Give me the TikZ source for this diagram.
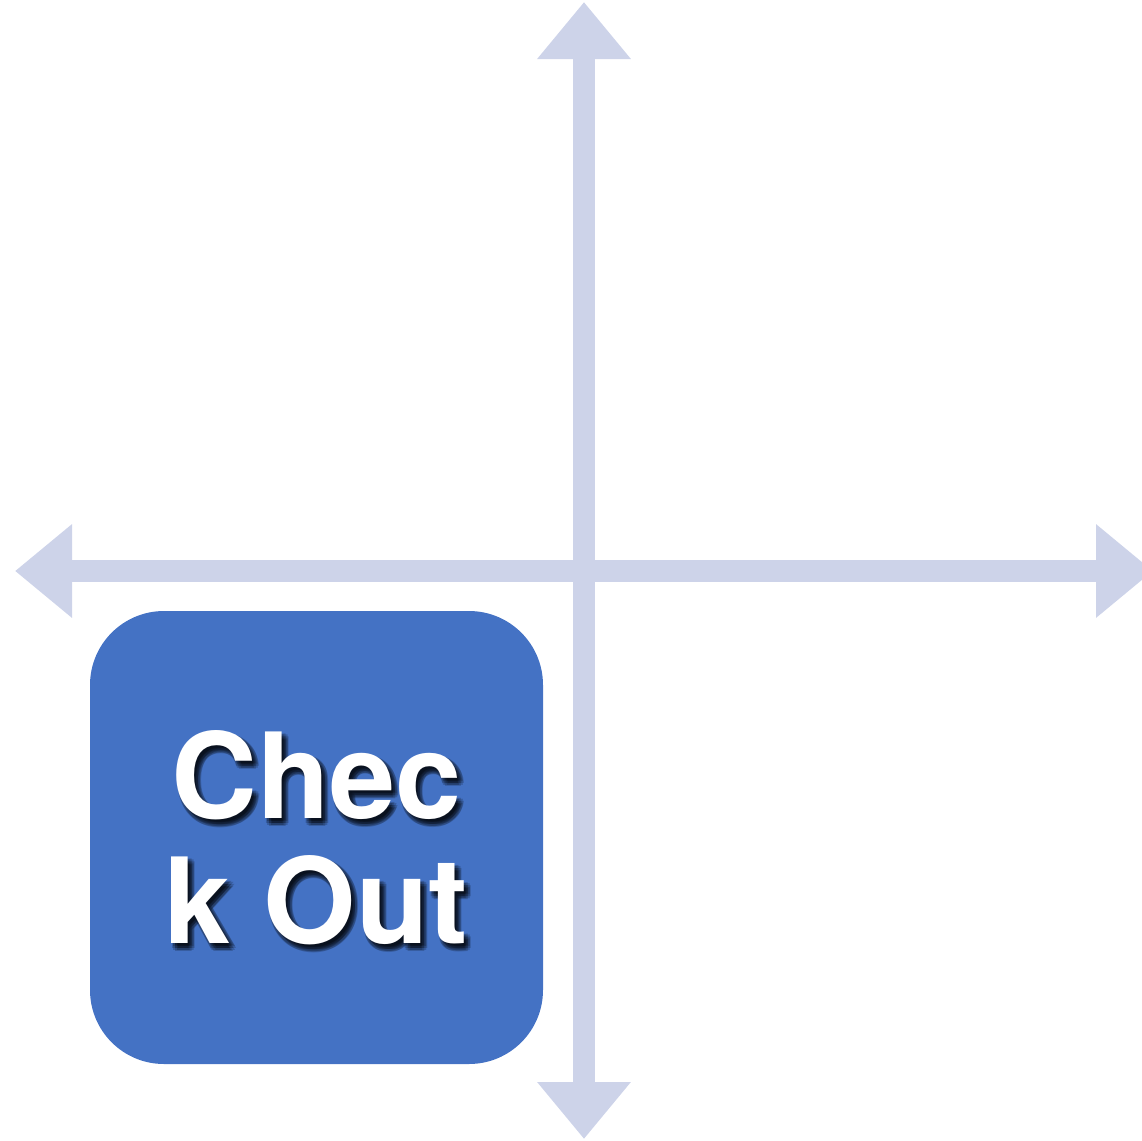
\documentclass[tikz,border=0pt]{standalone}
\usepackage{fontspec}
\setmainfont{TeX Gyre Heros}
\usetikzlibrary{arrows.meta,positioning}
\definecolor{axisgray}{HTML}{CDD3E9}
\definecolor{boxblue}{HTML}{4472C4}
\tikzset{
        % Axis arrows
        axis_arrow/.style={axisgray, line width=11pt, {Triangle[length=28.5pt, width=45pt]}-{Triangle[length=28.5pt, width=45pt]}},
        % Quadrant box
        node_box/.style={rectangle, rounded corners=37pt, fill=boxblue, minimum width=226.5pt, minimum height=226.5pt, inner sep=0pt},
        % Box text
        node_text/.style={align=center, inner sep=0pt, font=\fontsize{59.4pt}{62.5pt}\selectfont\bfseries},
        node_label/.style={node_text, white},
        node_shadow/.style={node_text, black, opacity=0.18}
}
\newcommand{\quadlabel}{Chec\\k Out}

\begin{document}
\begin{tikzpicture}[x=0.5pt, y=-0.5pt]
    \useasboundingbox (0,0) rectangle (1142,1141);
    % axis end points
    \coordinate (top) at (584,2);
    \coordinate (bottom) at (584,1139);
    \coordinate (left) at (15,571);
    \coordinate (right) at (1153,571);
    \draw[axis_arrow] (bottom) -- (top);
    \draw[axis_arrow] (left) -- (right);
    % box with blurred shadow under the text
    \node[node_box] (box) at (316.5,837.5) {};
    \foreach \dx/\dy in {4/5, 2/3, 6/3, 2/7, 6/7, 4/2, 4/8, 1/5, 7/5}
        \node[node_shadow] (shadow) at ([shift={(\dx,\dy)}]box.center) {\quadlabel};
    \node[node_label] (label) at (box.center) {\quadlabel};
\end{tikzpicture}
\end{document}
